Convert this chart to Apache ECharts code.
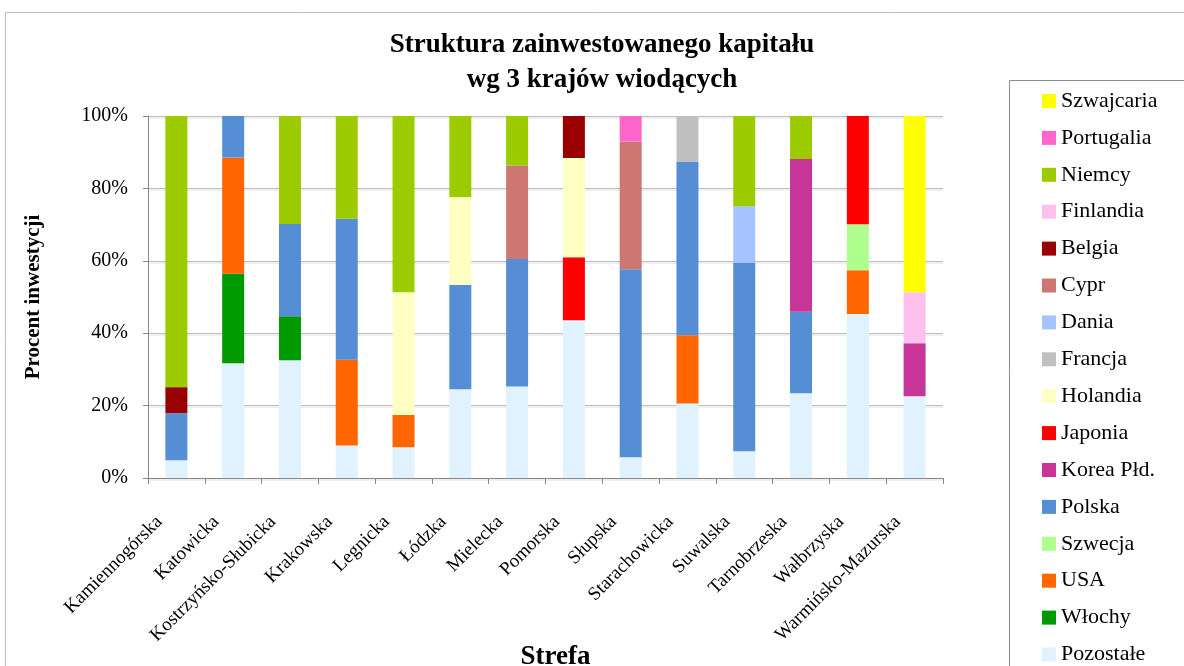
<!DOCTYPE html>
<html><head><meta charset="utf-8">
<script src="https://cdn.jsdelivr.net/npm/echarts@6/dist/echarts.min.js"></script>
<style>html,body{margin:0;padding:0;background:#fff}#c{width:1184px;height:666px}</style>
</head><body><div id="c"></div>
<script>
const categories = ['Kamiennogórska','Katowicka','Kostrzyńsko-Słubicka','Krakowska','Legnicka','Łódzka','Mielecka','Pomorska','Słupska','Starachowicka','Suwalska','Tarnobrzeska','Wałbrzyska','Warmińsko-Mazurska'];
const yTicks = [0,20,40,60,80,100];
// values in % (bottom to top stacking order)
const pozostale  = [4.9,31.7,32.5,9.0,8.5,24.5,25.3,43.6,5.7,20.6,7.4,23.4,45.3,22.6];
const wlochy     = [0,24.7,12.2,0,0,0,0,0,0,0,0,0,0,0];
const usa        = [0,32.1,0,23.7,8.9,0,0,0,0,18.8,0,0,12.1,0];
const szwecja    = [0,0,0,0,0,0,0,0,0,0,0,0,12.7,0];
const polska     = [13.0,11.5,25.5,38.9,0,28.8,35.2,0,52.0,47.9,52.0,22.5,0,0];
const korea      = [0,0,0,0,0,0,0,0,0,0,0,42.2,0,14.6];
const japonia    = [0,0,0,0,0,0,0,17.4,0,0,0,0,29.9,0];
const holandia   = [0,0,0,0,33.9,24.3,0,27.4,0,0,0,0,0,0];
const francja    = [0,0,0,0,0,0,0,0,0,12.7,0,0,0,0];
const dania      = [0,0,0,0,0,0,0,0,0,0,15.7,0,0,0];
const cypr       = [0,0,0,0,0,0,25.8,0,35.2,0,0,0,0,0];
const belgia     = [7.2,0,0,0,0,0,0,11.6,0,0,0,0,0,0];
const finlandia  = [0,0,0,0,0,0,0,0,0,0,0,0,0,14.1];
const niemcy     = [74.9,0,29.8,28.4,48.7,22.4,13.7,0,0,0,24.9,11.9,0,0];
const portugalia = [0,0,0,0,0,0,0,0,7.1,0,0,0,0,0];
const szwajcaria = [0,0,0,0,0,0,0,0,0,0,0,0,0,48.7];

const seriesDefs = [
  ['Pozostałe', pozostale, '#DFF2FE'],
  ['Włochy', wlochy, '#009900'],
  ['USA', usa, '#FF6600'],
  ['Szwecja', szwecja, '#AFFF8F'],
  ['Polska', polska, '#558ED5'],
  ['Korea Płd.', korea, '#C83497'],
  ['Japonia', japonia, '#FF0000'],
  ['Holandia', holandia, '#FFFFC4'],
  ['Francja', francja, '#C0C0C0'],
  ['Dania', dania, '#A6C3FF'],
  ['Cypr', cypr, '#CD7773'],
  ['Belgia', belgia, '#990000'],
  ['Finlandia', finlandia, '#FFBFEF'],
  ['Niemcy', niemcy, '#9CCC00'],
  ['Portugalia', portugalia, '#FF66CC'],
  ['Szwajcaria', szwajcaria, '#FFFF00']
];
const legendOrder = seriesDefs.map(s => s[0]).reverse();

const FONT = '"Liberation Serif", "Times New Roman", serif';
const chart = echarts.init(document.getElementById('c'));
chart.setOption({
  animation: false,
  textStyle: { fontFamily: FONT, color: '#000' },
  title: {
    text: 'Struktura zainwestowanego kapitału\nwg 3 krajów wiodących',
    left: 602, top: 28, textAlign: 'center', padding: 0,
    textStyle: { fontFamily: FONT, fontWeight: 'bold', fontSize: 27, lineHeight: 35, color: '#000' }
  },
  graphic: [
    { type: 'rect', shape: { x: 5.5, y: 12.5, width: 1300, height: 800 }, style: { fill: null, stroke: '#bfbfbf', lineWidth: 1 }, silent: true, z: -1 },
    { type: 'rect', shape: { x: 1009.5, y: 80.5, width: 300, height: 800 }, style: { fill: '#fff', stroke: '#8c8c8c', lineWidth: 1 }, silent: true, z: -1 }
  ],
  legend: {
    orient: 'vertical', left: 1042, top: 90, height: 700, padding: 0,
    data: legendOrder,
    itemWidth: 14, itemHeight: 14, itemGap: 14.9,
    icon: 'rect',
    textStyle: { fontFamily: FONT, fontSize: 22, lineHeight: 22, color: '#000' },
    selectedMode: false
  },
  grid: { left: 148, right: 241, top: 116, bottom: 188, outerBoundsMode: 'none', containLabel: false },
  xAxis: {
    type: 'category', data: categories,
    name: 'Strefa', nameLocation: 'middle', nameGap: 166, nameMoveOverlap: false,
    nameTextStyle: { fontFamily: FONT, fontWeight: 'bold', fontSize: 27, color: '#000', padding: [0, 0, 0, 20] },
    axisLine: { lineStyle: { color: '#868686', width: 1 } },
    axisTick: { show: true, length: 6, lineStyle: { color: '#868686' } },
    axisLabel: { rotate: 45, fontFamily: FONT, fontSize: 19, color: '#000', margin: 24, padding: [0, 24, 0, 0], interval: 0 }
  },
  yAxis: {
    type: 'value', min: 0, max: 100, interval: 20,
    name: 'Procent inwestycji', nameLocation: 'middle', nameRotate: 90, nameGap: 104, nameMoveOverlap: false,
    nameTextStyle: { fontFamily: FONT, fontWeight: 'bold', fontSize: 21, color: '#000' },
    axisLine: { show: true, lineStyle: { color: '#868686', width: 1 } },
    axisTick: { show: true, length: 5, lineStyle: { color: '#868686' } },
    axisLabel: { formatter: v => yTicks.includes(v) ? v + '%' : '', fontFamily: FONT, fontSize: 20, color: '#000', margin: 20 },
    splitLine: { show: true, lineStyle: { color: '#bdbdbd', width: 1, shadowColor: '#e0e0e0', shadowOffsetY: 1.5, shadowBlur: 0 } }
  },
  series: seriesDefs.map(([name, data, color]) => ({
    name, type: 'bar', stack: 'total', data,
    barWidth: 22,
    itemStyle: { color },
    emphasis: { disabled: true }
  }))
});
</script></body></html>
